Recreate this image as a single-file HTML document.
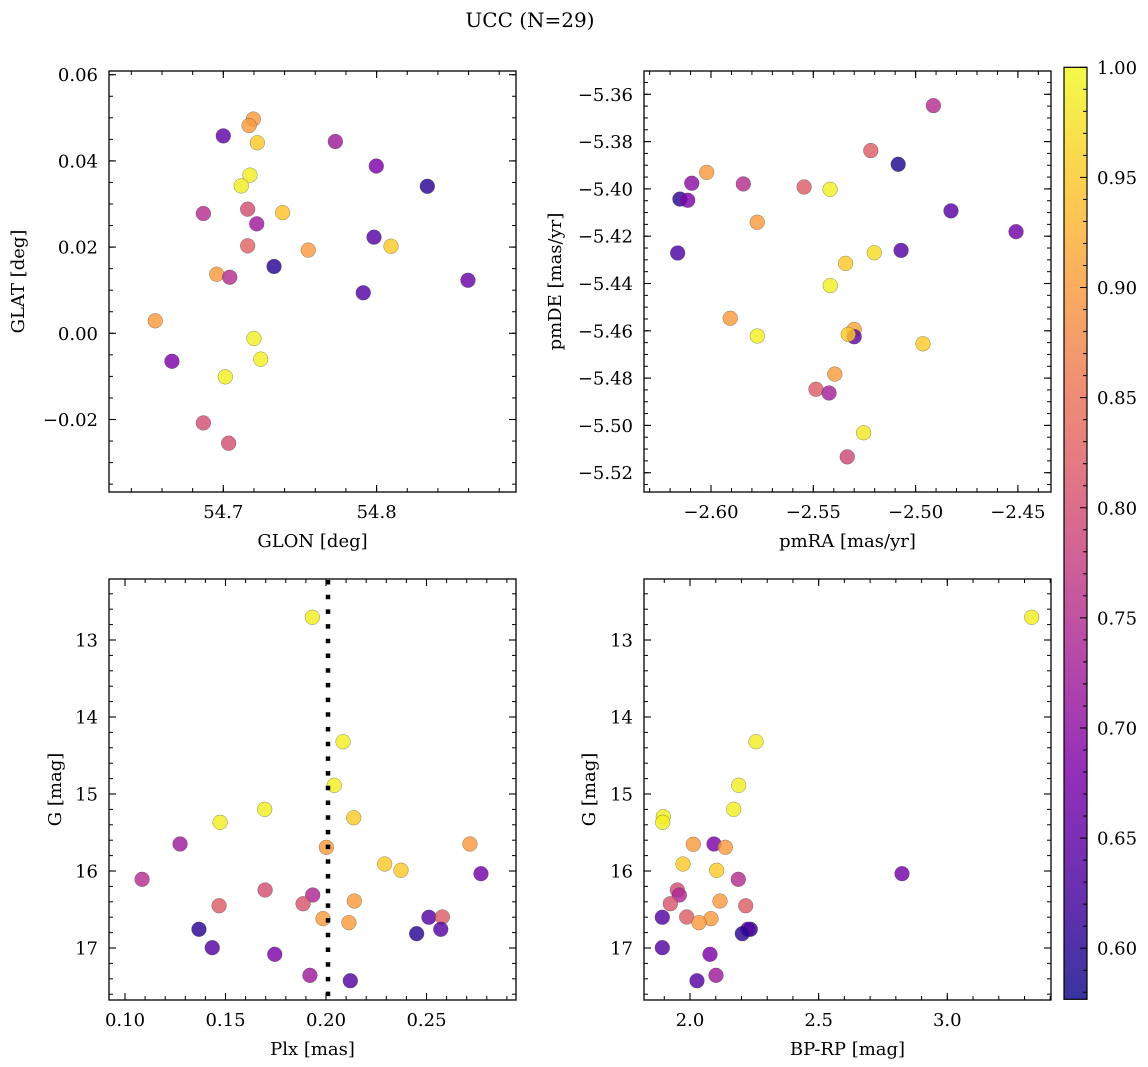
<!DOCTYPE html>
<html><head><meta charset="utf-8"><style>
html,body{margin:0;padding:0;background:#fff;}
svg{display:block;font-family:"DejaVu Serif","Liberation Serif",serif;}
</style></head><body>
<svg id="fig" width="1148" height="1067" viewBox="0 0 1148 1067" xmlns="http://www.w3.org/2000/svg">
<text x="530" y="27" font-size="20" text-anchor="middle" fill="#000">UCC (N=29)</text>
</svg>
<script>
// ---- Panel A: GLON vs GLAT ----
const glon=[54.7196,54.7168,54.7000,54.7222,54.7731,54.7998,54.8331,54.7174,54.7117,54.6870,54.7159,54.7387,54.7218,54.7983,54.8094,54.7159,54.7554,54.7331,54.6957,54.7042,54.8596,54.7913,54.6556,54.7200,54.6665,54.7244,54.7013,54.6870,54.7035];
const glat=[0.0497,0.0482,0.0458,0.0442,0.0445,0.0388,0.0341,0.0367,0.0342,0.0278,0.0288,0.0280,0.0254,0.0223,0.0202,0.0203,0.0193,0.0155,0.0137,0.0130,0.0123,0.0094,0.0029,-0.0012,-0.0065,-0.0060,-0.0101,-0.0208,-0.0255];
const probA=[0.90,0.90,0.65,0.95,0.72,0.68,0.60,0.99,0.99,0.75,0.80,0.94,0.72,0.64,0.95,0.83,0.90,0.60,0.90,0.75,0.66,0.64,0.90,0.99,0.68,0.99,0.99,0.80,0.80];
// ---- Panel B: pmRA vs pmDE ----
const pmra=[-2.4913,-2.5219,-2.5085,-2.6021,-2.6094,-2.5842,-2.5545,-2.5418,-2.6152,-2.6114,-2.4827,-2.5774,-2.4509,-2.6163,-2.5202,-2.5071,-2.5342,-2.5417,-2.5906,-2.5774,-2.5300,-2.5300,-2.5329,-2.4964,-2.5395,-2.5487,-2.5423,-2.5254,-2.5334];
const pmde=[-5.3648,-5.3838,-5.3896,-5.3930,-5.3976,-5.3979,-5.3992,-5.4002,-5.4043,-5.4048,-5.4093,-5.4141,-5.4181,-5.4271,-5.4270,-5.4260,-5.4315,-5.4409,-5.4547,-5.4622,-5.4594,-5.4625,-5.4615,-5.4655,-5.4783,-5.4847,-5.4863,-5.5031,-5.5133];
const probB=[0.75,0.82,0.59,0.90,0.70,0.75,0.82,0.99,0.60,0.68,0.64,0.90,0.67,0.63,0.97,0.64,0.95,0.99,0.90,0.99,0.91,0.65,0.95,0.95,0.90,0.82,0.73,0.98,0.79];
// ---- Panel C: Plx vs G ----
const plx=[0.1932,0.2085,0.2041,0.1695,0.1473,0.2138,0.1274,0.2002,0.2716,0.2292,0.2373,0.2771,0.1085,0.1697,0.1934,0.1886,0.2141,0.1468,0.2512,0.2579,0.1985,0.2114,0.1368,0.2571,0.2451,0.1434,0.1745,0.1920,0.2121];
const gmagC=[12.705,14.321,14.887,15.199,15.368,15.308,15.649,15.692,15.649,15.909,15.991,16.035,16.108,16.247,16.312,16.425,16.390,16.451,16.601,16.597,16.619,16.671,16.757,16.757,16.814,16.996,17.082,17.355,17.425];
const probC=[0.99,0.99,0.99,0.99,0.99,0.95,0.72,0.90,0.90,0.95,0.95,0.67,0.75,0.80,0.74,0.81,0.90,0.82,0.64,0.82,0.90,0.90,0.60,0.64,0.60,0.64,0.68,0.72,0.64];
// ---- Panel D: BP-RP vs G ----
const bprp=[3.328,2.2565,2.1893,2.1698,1.8962,1.8939,2.0128,2.0933,2.1372,1.9728,2.1038,2.8239,2.1877,1.9507,1.9585,1.9235,2.1166,2.2165,1.8924,1.9872,2.0816,2.0350,2.2344,2.2250,2.2033,1.8924,2.0777,2.1010,2.0272];
const gmagD=[12.705,14.321,14.887,15.199,15.294,15.368,15.653,15.649,15.692,15.909,15.991,16.035,16.108,16.247,16.312,16.425,16.390,16.451,16.601,16.597,16.619,16.671,16.757,16.757,16.814,16.996,17.082,17.355,17.425];
const probD=[0.99,0.99,0.99,0.99,0.99,0.99,0.90,0.68,0.90,0.95,0.95,0.67,0.75,0.80,0.74,0.81,0.90,0.82,0.64,0.82,0.90,0.90,0.60,0.64,0.60,0.64,0.68,0.72,0.64];
// ---- tick labels ----
const ticksAx=[54.7,54.8];
const ticksAy=[-0.02,0.00,0.02,0.04,0.06];
const ticksBx=[-2.60,-2.55,-2.50,-2.45];
const ticksBy=[-5.36,-5.38,-5.40,-5.42,-5.44,-5.46,-5.48,-5.50,-5.52];
const ticksCx=[0.10,0.15,0.20,0.25];
const ticksGy=[13,14,15,16,17];
const ticksDx=[2.0,2.5,3.0];
const ticksCbar=[0.60,0.65,0.70,0.75,0.80,0.85,0.90,0.95,1.00];
const plxRef=[0.201];

const NS='http://www.w3.org/2000/svg';
const svg=document.getElementById('fig');
const VMIN=0.5768, VMAX=1.0;
const stops=[[13,8,135],[76,2,161],[126,3,168],[169,35,149],[204,71,120],[230,108,92],[248,149,64],[253,197,39],[240,249,33]];
function plasma(t){t=Math.max(0,Math.min(1,t));const f=t*8;const i=Math.min(7,Math.floor(f));const r=f-i;const a=stops[i],b=stops[i+1];
 return 'rgb('+Math.round(a[0]+(b[0]-a[0])*r)+','+Math.round(a[1]+(b[1]-a[1])*r)+','+Math.round(a[2]+(b[2]-a[2])*r)+')';}
function mk(tag,attrs,parent){const e=document.createElementNS(NS,tag);for(const k in attrs)e.setAttribute(k,attrs[k]);(parent||svg).appendChild(e);return e;}
function fmt(v,d){const s=Math.abs(v).toFixed(d);return (v<-1e-12?'\u2212':'')+s;}

function panel(cfg){
 const g=mk('g',{});
 
 
 const L=cfg.left,T=cfg.top,W=cfg.w,H=cfg.h;
 const sx=v=>L+(v-cfg.x0)/(cfg.x1-cfg.x0)*W;
 const sy=v=>T+(cfg.yinv?(v-cfg.y0)/(cfg.y1-cfg.y0):(cfg.y1-v)/(cfg.y1-cfg.y0))*H;
 function minorTicks(a0,a1,step,isX){
  const lo=Math.min(a0,a1),hi=Math.max(a0,a1);
  for(let k=Math.ceil(lo/step-1e-6);k*step<=hi+1e-9;k++){
   const v=k*step;
   if(isX){const x=sx(v);
    const t1=mk('line',{x1:x,x2:x,y1:T+H,y2:T+H-4,stroke:'#000','stroke-width':1},g);
    
    const t2=mk('line',{x1:x,x2:x,y1:T,y2:T+4,stroke:'#000','stroke-width':1},g);
    
   } else {const y=sy(v);
    const t1=mk('line',{x1:L,x2:L+4,y1:y,y2:y,stroke:'#000','stroke-width':1},g);
    
    const t2=mk('line',{x1:L+W,x2:L+W-4,y1:y,y2:y,stroke:'#000','stroke-width':1},g);
    
   }
  }
 }
 minorTicks(cfg.x0,cfg.x1,cfg.xminor,true);
 minorTicks(cfg.y0,cfg.y1,cfg.yminor,false);
 cfg.xt.forEach(v=>{const x=sx(v);
  const a=mk('line',{x1:x,x2:x,y1:T+H,y2:T+H-7,stroke:'#000','stroke-width':1.1},g);
  
  const b=mk('line',{x1:x,x2:x,y1:T,y2:T+7,stroke:'#000','stroke-width':1.1},g);
  
  const t=mk('text',{x:x,y:T+H+26,'font-size':18,'text-anchor':'middle',fill:'#000'},g);
  
  t.textContent=fmt(v,cfg.xd);
 });
 cfg.yt.forEach(v=>{const y=sy(v);
  const a=mk('line',{x1:L,x2:L+7,y1:y,y2:y,stroke:'#000','stroke-width':1.1},g);
  
  const b=mk('line',{x1:L+W,x2:L+W-7,y1:y,y2:y,stroke:'#000','stroke-width':1.1},g);
  
  const t=mk('text',{x:L-11,y:y+6.5,'font-size':18,'text-anchor':'end',fill:'#000'},g);
  
  t.textContent=fmt(v,cfg.yd);
 });
 cfg.xs.forEach((xv,i)=>{
  const c=mk('circle',{cx:sx(xv),cy:sy(cfg.ys[i]),r:7.4,fill:plasma((cfg.ps[i]-VMIN)/(VMAX-VMIN)),'fill-opacity':0.82,stroke:'#444','stroke-width':0.5,'stroke-opacity':0.6},g);
  
  
 });
 if(cfg.vline){cfg.vline.forEach(v=>{
  const l=mk('line',{x1:sx(v),x2:sx(v),y1:T+1,y2:T+H,stroke:'#000','stroke-width':4.5,'stroke-dasharray':'4.5 10.2'},g);
  
 });}
 const fr=mk('rect',{x:L,y:T,width:W,height:H,fill:'none',stroke:'#000','stroke-width':1.3},g);
 
 const xl=mk('text',{x:L+W/2,y:T+H+55,'font-size':18,'text-anchor':'middle',fill:'#000'},g);
 
 xl.textContent=cfg.xlabel;
 const yl=mk('text',{x:0,y:0,'font-size':18,'text-anchor':'middle',fill:'#000',transform:'translate('+(cfg.ylx)+','+(T+H/2)+') rotate(-90)'},g);
 
 yl.textContent=cfg.ylabel;
}

panel({name:'glon-glat-panel',left:109,top:71,w:407,h:421,x0:54.62544,x1:54.89093,y0:-0.036821,y1:0.060858,xminor:0.02,yminor:0.005,xt:ticksAx,yt:ticksAy,xd:1,yd:2,xs:glon,ys:glat,ps:probA,xlabel:'GLON [deg]',ylabel:'GLAT [deg]',ylx:24});
panel({name:'proper-motion-panel',left:644,top:71,w:407,h:421,x0:-2.63275,x1:-2.43382,y0:-5.52816,y1:-5.35015,xminor:0.01,yminor:0.005,xt:ticksBx,yt:ticksBy,xd:2,yd:2,xs:pmra,ys:pmde,ps:probB,xlabel:'pmRA [mas/yr]',ylabel:'pmDE [mas/yr]',ylx:561});
panel({name:'parallax-magnitude-panel',left:109,top:579,w:407,h:421,x0:0.09204,x1:0.29453,y0:12.2078,y1:17.6753,yinv:true,xminor:0.01,yminor:0.2,xt:ticksCx,yt:ticksGy,xd:2,yd:0,xs:plx,ys:gmagC,ps:probC,xlabel:'Plx [mas]',ylabel:'G [mag]',ylx:61,vline:plxRef});
panel({name:'color-magnitude-panel',left:644,top:579,w:407,h:421,x0:1.82122,x1:3.40303,y0:12.2078,y1:17.6753,yinv:true,xminor:0.1,yminor:0.2,xt:ticksDx,yt:ticksGy,xd:1,yd:0,xs:bprp,ys:gmagD,ps:probD,xlabel:'BP-RP [mag]',ylabel:'G [mag]',ylx:595});

// ---- colorbar ----
const CB={x:1064,y:67.3,w:23,h:932};
const defs=mk('defs',{});
const grad=mk('linearGradient',{id:'cbgrad',x1:0,y1:1,x2:0,y2:0},defs);
for(let i=0;i<=20;i++){mk('stop',{offset:(i/20),'stop-color':plasma(i/20)},grad);}
const cbar=mk('rect',{x:CB.x,y:CB.y,width:CB.w,height:CB.h,fill:'url(#cbgrad)','fill-opacity':0.82});


const cy=v=>CB.y+(VMAX-v)/(VMAX-VMIN)*CB.h;
for(let k=Math.ceil(VMIN*100);k<=100;k++){const y=cy(k/100);
 const t=mk('line',{x1:CB.x+CB.w,x2:CB.x+CB.w-(k%5===0?7:4),y1:y,y2:y,stroke:'#000','stroke-width':1});
 
 
}
ticksCbar.forEach(v=>{
 const t=mk('text',{x:CB.x+CB.w+10,y:cy(v)+6.5,'font-size':18,fill:'#000'});
 
 
 t.textContent=v.toFixed(2);
});
const cbf=mk('rect',{x:CB.x,y:CB.y,width:CB.w,height:CB.h,fill:'none',stroke:'#000','stroke-width':1.2});


</script>
</body></html>
